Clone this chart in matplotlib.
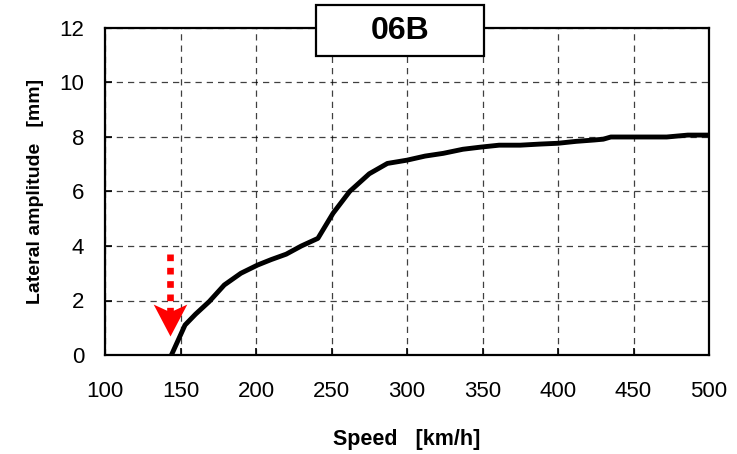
import numpy as np
import matplotlib.pyplot as plt
from matplotlib.patches import Rectangle
from matplotlib.path import Path

plt.rcParams['font.family'] = ['Liberation Sans', 'DejaVu Sans']

# Curva de amplitude lateral x velocidade
velocidade = [144, 153, 160, 169, 179, 190, 201, 210, 220, 230, 241, 251, 262, 275,
              287, 300, 312, 324, 337, 349, 361, 375, 388, 400, 412, 424, 430, 435,
              450, 472, 486, 500]
amplitude = [0.0, 1.1, 1.5, 1.96, 2.57, 3.0, 3.3, 3.5, 3.7, 4.0, 4.28, 5.2, 6.0, 6.65,
             7.03, 7.15, 7.3, 7.4, 7.55, 7.63, 7.7, 7.7, 7.74, 7.77, 7.84, 7.89, 7.92, 8.0,
             8.0, 8.0, 8.07, 8.07]

titulo = "06B"
xticks = [100, 150, 200, 250, 300, 350, 400, 450, 500]
yticks = [0, 2, 4, 6, 8, 10, 12]

# Seta indicando a velocidade critica
seta_x = 143
seta_topo = 3.7
seta_fim = 1.3
seta_ponta = 0.68

fig = plt.figure(figsize=(7.37, 4.54), dpi=100)
ax = fig.add_axes([105 / 737, 1 - 355 / 454, 604 / 737, 327 / 454])

ax.set_xlim(100, 500)
ax.set_ylim(0, 12)
ax.set_xticks(xticks)
ax.set_yticks(yticks)
ax.tick_params(direction='in', length=5, width=1.2, labelsize=16)
ax.tick_params(axis='x', pad=19)
ax.tick_params(axis='y', pad=15)
ax.grid(True, linestyle=(0, (5, 4)), color='black', linewidth=0.9, alpha=0.75)
for s in ax.spines.values():
    s.set_linewidth(1.6)

ax.plot(velocidade, amplitude, color='black', linewidth=3.5, solid_joinstyle='round', zorder=3)

# haste pontilhada + ponta da seta
ax.plot([seta_x, seta_x], [seta_topo, seta_fim], color='red', linewidth=4.8,
        linestyle=(0, (1, 1)), dash_capstyle='butt', zorder=4)
ponta = Path([(0, 0), (-50, 95), (0, 72), (50, 95), (0, 0)],
             [Path.MOVETO, Path.LINETO, Path.LINETO, Path.LINETO, Path.CLOSEPOLY])
ax.plot([seta_x], [seta_ponta], marker=ponta, markersize=46, color='red',
        markeredgewidth=0, linestyle='', zorder=4)

ax.set_xlabel("Speed   [km/h]", fontsize=15.5, fontweight='bold', labelpad=19)
ax.set_ylabel("Lateral amplitude   [mm]", fontsize=14, fontweight='bold', labelpad=11)

# caixa do titulo sobre o topo do grafico
ax.add_patch(Rectangle((0.349, 0.914), 0.278, 0.156, transform=ax.transAxes,
                       facecolor='white', edgecolor='black', linewidth=1.6,
                       clip_on=False, zorder=5))
ax.text(0.488, 0.992, titulo, transform=ax.transAxes, ha='center', va='center',
        fontsize=23, fontweight='bold', zorder=6)

fig.savefig('out.png', dpi=100)
